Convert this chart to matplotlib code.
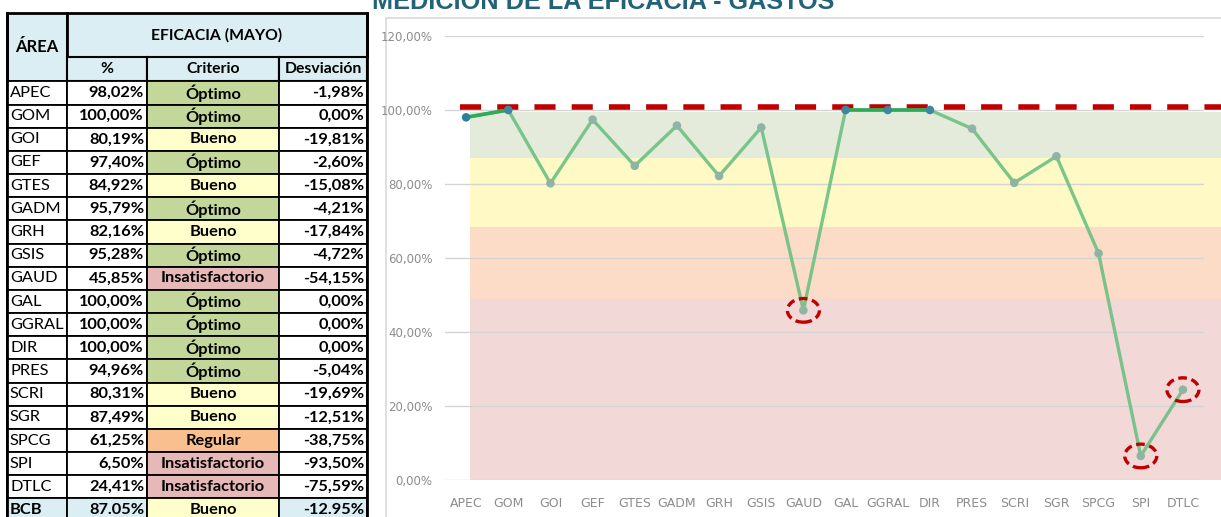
import matplotlib
matplotlib.use("Agg")
import matplotlib.pyplot as plt
from matplotlib.patches import Rectangle, Ellipse

# data
areas = ["APEC", "GOM", "GOI", "GEF", "GTES", "GADM", "GRH", "GSIS", "GAUD",
         "GAL", "GGRAL", "DIR", "PRES", "SCRI", "SGR", "SPCG", "SPI", "DTLC"]
eficacia = [98.02, 100.00, 80.19, 97.40, 84.92, 95.79, 82.16, 95.28, 45.85,
            100.00, 100.00, 100.00, 94.96, 80.31, 87.49, 61.25, 6.50, 24.41]
criterio = ["Óptimo", "Óptimo", "Bueno", "Óptimo", "Bueno", "Óptimo", "Bueno",
            "Óptimo", "Insatisfactorio", "Óptimo", "Óptimo", "Óptimo", "Óptimo",
            "Bueno", "Bueno", "Regular", "Insatisfactorio", "Insatisfactorio"]
total_area = "BCB"
total_eficacia = 87.05
total_criterio = "Bueno"

meta = 100.9
# limits of the coloured bands (from bottom to top)
bandas = [(0, 48.8), (48.8, 68.4), (68.4, 87.1), (87.1, 99.5)]
band_colors = ["#F3D8D8", "#FCDCC6", "#FFF9C6", "#E5EBDA"]
resaltados = ["GAUD", "SPI", "DTLC"]
yticks = [0, 20, 40, 60, 80, 100, 120]

crit_colors = {"Óptimo": "#C4D79B", "Bueno": "#FFFFCC", "Regular": "#FABF8F",
               "Insatisfactorio": "#E6B8B7"}
head_blue = "#DAEEF3"

W, H = 1221, 517
fig = plt.figure(figsize=(W / 100, H / 100), dpi=100)

# background axes in pixel units: table, frame, title
tb = fig.add_axes([0, 0, 1, 1])
tb.set_xlim(0, W)
tb.set_ylim(H, 0)
tb.axis("off")

tfont = ["Lato", "DejaVu Sans"]
fs = 11.8
fsh = 11.3
cols = [7, 67, 147, 279, 367]
top, mid, dtop, rh = 13, 57, 81.4, 23.17

def cell(x0, x1, y0, y1, color="white", lw=1.3):
    tb.add_patch(Rectangle((x0, y0), x1 - x0, y1 - y0, facecolor=color,
                           edgecolor="black", lw=lw, zorder=1))

# header
cell(cols[0], cols[1], top, dtop, head_blue, 2)
cell(cols[1], cols[4], top, mid, head_blue, 2)
for i in range(1, 4):
    cell(cols[i], cols[i + 1], mid, dtop, head_blue, 1.5)
tb.text((cols[0] + cols[1]) / 2, (top + dtop) / 2, "ÁREA", ha="center", va="center",
        fontsize=fsh + 0.7, fontweight="bold", family=tfont)
tb.text((cols[1] + cols[4]) / 2, (top + mid) / 2, "EFICACIA (MAYO)", ha="center",
        va="center", fontsize=fsh, fontweight="bold", family=tfont)
for i, lab in enumerate(["%", "Criterio", "Desviación"]):
    tb.text((cols[i + 1] + cols[i + 2]) / 2, (mid + dtop) / 2, lab, ha="center",
            va="center", fontsize=fsh, fontweight="bold", family=tfont)

def fmt(v, sep=","):
    return f"{v:.2f}%".replace(".", sep)

rows = list(zip(areas, eficacia, criterio))
rows.append((total_area, total_eficacia, total_criterio))
for r, (a, v, c) in enumerate(rows):
    y0 = dtop + r * rh
    y1 = y0 + rh
    yc = (y0 + y1) / 2
    total = r == len(rows) - 1
    bg = head_blue if total else "white"
    sep = "." if total else ","
    cell(cols[0], cols[1], y0, y1, bg)
    cell(cols[1], cols[2], y0, y1, bg)
    cell(cols[2], cols[3], y0, y1, crit_colors[c])
    cell(cols[3], cols[4], y0, y1, bg)
    tb.text(cols[0] + 3, yc, a, ha="left", va="center", fontsize=fs, family=tfont,
            fontweight="bold" if total else "normal")
    tb.text(cols[2] - 3, yc, fmt(v, sep), ha="right", va="center", fontsize=fs,
            fontweight="bold", family=tfont)
    tb.text((cols[2] + cols[3]) / 2, yc, c, ha="center", va="center", fontsize=fs,
            fontweight="bold", family=tfont)
    tb.text(cols[4] - 3, yc, fmt(v - 100, sep), ha="right", va="center",
            fontsize=fs, fontweight="bold", family=tfont)
# thick outer left/right borders
tb.plot([cols[0], cols[0]], [top, H], color="black", lw=2, zorder=2)
tb.plot([cols[4], cols[4]], [top, H], color="black", lw=2, zorder=2)

# chart frame and title
tb.add_patch(Rectangle((386, 18), W, H, facecolor="white", edgecolor="#D9D9D9",
                       lw=1.2, zorder=0.5))
fig.text(372 / W, 1 - 9 / H, "MEDICIÓN DE LA EFICACIA - GASTOS", ha="left",
         va="baseline", fontsize=18.2, fontweight="bold", color="#23637A",
         family=["Liberation Sans", "DejaVu Sans"])

# chart
ax = fig.add_axes([445 / W, (H - 480) / H, 759 / W, 444 / H])
ax.patch.set_alpha(0)
x = list(range(len(areas)))
ax.set_xlim(-0.5, len(areas) - 0.5)
ax.set_ylim(0, 120)

for (lo, hi), col in zip(bandas, band_colors):
    b = ax.axhspan(lo, hi, xmin=0.033, xmax=1.03, color=col, lw=0, zorder=0.3)
    b.set_clip_on(False)

ax.set_axisbelow(True)
ax.grid(axis="y", color="#D4D4D4", lw=1)
for s in ax.spines.values():
    s.set_visible(False)

ax.axhline(meta, xmin=0.02, xmax=1.03, color="#C00000", lw=4,
           linestyle=(0, (3.8, 2.9)), dash_capstyle="butt", clip_on=False, zorder=3)

ax.plot(x, eficacia, color="#6CC082", lw=2.4, alpha=0.9, zorder=4)
for i in range(len(x) - 1):
    if eficacia[i] >= 98 and eficacia[i + 1] >= 98:
        ax.plot(x[i:i + 2], eficacia[i:i + 2], color="#2EAA58", lw=2.6, zorder=4.5)
mcols = ["#3D87A2" if v >= 98 else "#8FB4A6" for v in eficacia]
mcols[0] = "#2F7EA0"
ax.scatter(x, eficacia, s=38, c=mcols, zorder=5, edgecolors="none")

for name in resaltados:
    i = areas.index(name)
    ax.add_patch(Ellipse((x[i], eficacia[i]), 0.76, 6.4, fill=False,
                         edgecolor="#C00000", lw=2.4, linestyle=(0, (2.6, 1.4)),
                         zorder=6))

lfont = ["Liberation Sans Narrow", "DejaVu Sans"]
ax.set_yticks(yticks)
ax.set_yticklabels([fmt(v) for v in yticks], family=lfont, fontsize=8.5,
                   color="#8C8C8C")
ax.set_xticks(x)
ax.set_xticklabels(areas, family=lfont, fontsize=9, color="#8C8C8C")
ax.tick_params(axis="y", length=0, pad=9)
ax.tick_params(axis="x", length=0, pad=12)

fig.savefig("out.png", dpi=100)
